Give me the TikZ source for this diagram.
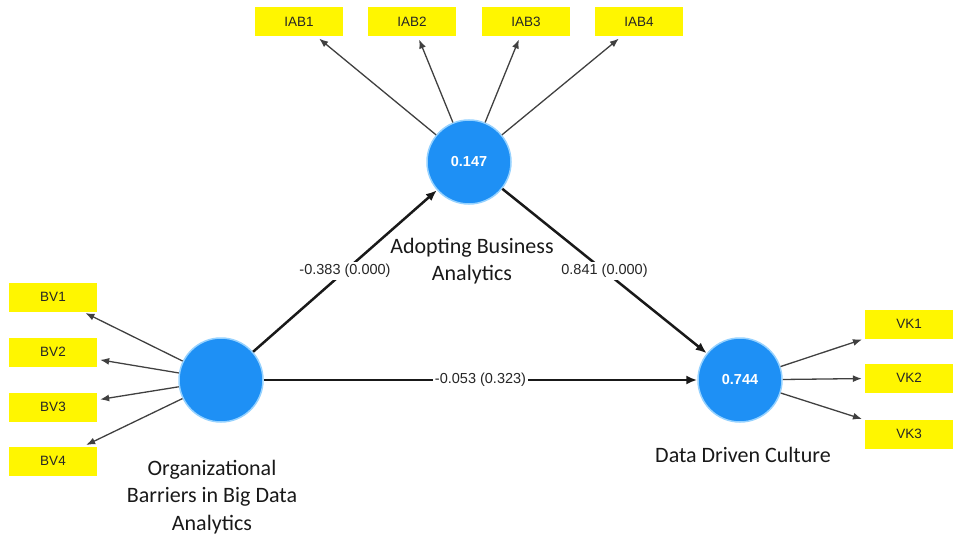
\documentclass[tikz,border=0pt]{standalone}
\usepackage{fontspec}
\setmainfont{Liberation Sans}
\newfontfamily\calib{Carlito}
\usetikzlibrary{arrows.meta}
\definecolor{lvblue}{RGB}{30,144,245}
\definecolor{lvglow}{RGB}{150,210,255}
\definecolor{indyellow}{RGB}{255,246,0}
\tikzset{
 lv/.style={circle, fill=lvblue, draw=lvglow, line width=1.5pt, minimum size=84pt, inner sep=0pt, text=white, font=\fontsize{14.5}{16}\selectfont\bfseries},
 ind/.style={rectangle, fill=indyellow, minimum width=88pt, minimum height=29pt, inner sep=0pt, font=\fontsize{13.5}{15}\selectfont, text=black!85},
 load/.style={-{Latex[length=9pt,width=7pt]}, line width=1.3pt, draw=black!75, shorten >=3pt},
 pathc/.style={-{Latex[length=11pt,width=9pt]}, line width=2.5pt, draw=black!90},
 plab/.style={fill=white, inner sep=2pt, font=\fontsize{14.5}{16}\selectfont, text=black!85},
 lvlab/.style={align=center, font=\calib\fontsize{22}{27.5}\selectfont, text=black!90},
}
\begin{document}
\begin{tikzpicture}[x=1pt,y=-1pt]
\useasboundingbox (0,0) rectangle (953,535);
% latent variables
\node[lv] (aba) at (469,162) {0.147};
\node[lv] (ob) at (221,380) {};
\node[lv] (ddc) at (740,380) {0.744};
% indicators
\node[ind] (iab1) at (299,22) {IAB1};
\node[ind] (iab2) at (412,22) {IAB2};
\node[ind] (iab3) at (526,22) {IAB3};
\node[ind] (iab4) at (639,22) {IAB4};
\node[ind] (bv1) at (53,297) {BV1};
\node[ind] (bv2) at (53,352) {BV2};
\node[ind] (bv3) at (53,407) {BV3};
\node[ind] (bv4) at (53,461) {BV4};
\node[ind] (vk1) at (909,324) {VK1};
\node[ind] (vk2) at (909,378) {VK2};
\node[ind] (vk3) at (909,434) {VK3};
% loadings
\foreach \t in {iab1,iab2,iab3,iab4} \draw[load] (aba) -- (\t);
\foreach \t in {bv1,bv2,bv3,bv4} \draw[load] (ob) -- (\t);
\foreach \t in {vk1,vk2,vk3} \draw[load] (ddc) -- (\t);
% paths
\draw[pathc] (ob) -- node[plab] (l1) {-0.383 (0.000)} (aba);
\draw[pathc] (aba) -- node[plab] (l2) {0.841 (0.000)} (ddc);
\draw[pathc] (ob) -- node[plab] (l3) {-0.053 (0.323)} (ddc);
% LV labels
\node[lvlab] (tAba) at (472,261) {Adopting Business\\Analytics};
\node[lvlab] (tOb) at (212,497) {Organizational\\Barriers in Big Data\\Analytics};
\node[lvlab] (tDdc) at (743,455) {Data Driven Culture};
\end{tikzpicture}
\end{document}
